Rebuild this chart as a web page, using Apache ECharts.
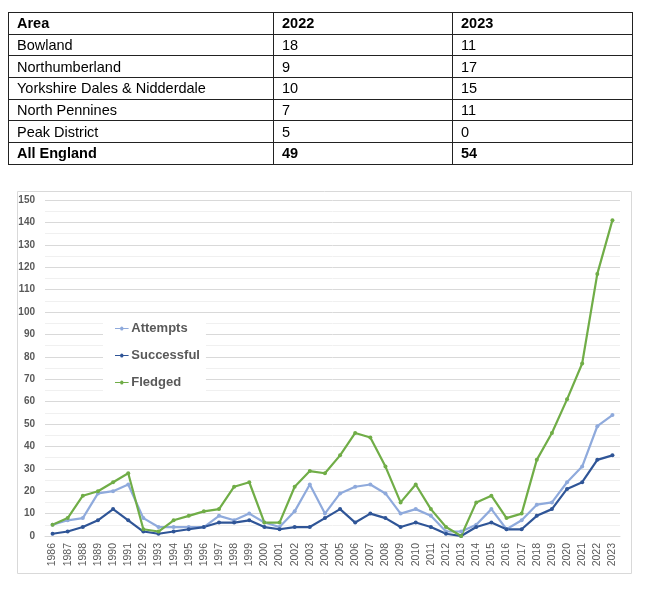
<!DOCTYPE html>
<html>
<head>
<meta charset="utf-8">
<script src="https://cdn.jsdelivr.net/npm/echarts@6/dist/echarts.min.js"></script>
<style>
html,body{margin:0;padding:0;background:#fff;}
#wrap{position:relative;width:645px;height:590px;overflow:hidden;}
#tbl{position:absolute;left:8px;top:12px;width:624px;border-collapse:collapse;font-family:"Liberation Sans",Arial,sans-serif;font-size:14.5px;color:#000;table-layout:fixed;}
#tbl td{border:1px solid #222;height:21.7px;padding:0 0 0 8px;line-height:20px;box-sizing:border-box;white-space:nowrap;}
#tbl tr.b td{font-weight:bold;}
#chart{position:absolute;left:0;top:0;width:645px;height:590px;}
</style>
</head>
<body>
<div id="wrap">
<div id="chart"></div>
<table id="tbl">
<colgroup><col style="width:265px"><col style="width:179px"><col style="width:180px"></colgroup>
<tbody id="tb"></tbody>
</table>
</div>
<script>
// Table data
const tableHeader = ["Area", "2022", "2023"];
const areas = ["Bowland", "Northumberland", "Yorkshire Dales & Nidderdale", "North Pennines", "Peak District"];
const v2022 = [18, 9, 10, 7, 5];
const v2023 = [11, 17, 15, 11, 0];
const totalRow = ["All England", 49, 54];

// Chart data
const years = ["1986","1987","1988","1989","1990","1991","1992","1993","1994","1995","1996","1997","1998","1999","2000","2001","2002","2003","2004","2005","2006","2007","2008","2009","2010","2011","2012","2013","2014","2015","2016","2017","2018","2019","2020","2021","2022","2023"];
const attempts =   [5,7,8,19,20,23,8,4,4,4,4,9,7,10,6,4,11,23,10,19,22,23,19,10,12,9,2,2,5,12,3,7,14,15,24,31,49,54];
const successful = [1,2,4,7,12,7,2,1,2,3,4,6,6,7,4,3,4,4,8,12,6,10,8,4,6,4,1,0,4,6,3,3,9,12,21,24,34,36];
const fledged =    [5,8,18,20,24,28,3,2,7,9,11,12,22,24,6,6,22,29,28,36,46,44,31,15,23,12,4,0,15,18,8,10,34,46,61,77,117,141];

// Build table
const tb = document.getElementById('tb');
function addRow(cells, bold){
  const tr = document.createElement('tr');
  if (bold) tr.className = 'b';
  cells.forEach(c => { const td = document.createElement('td'); td.textContent = c; tr.appendChild(td); });
  tb.appendChild(tr);
}
addRow(tableHeader, true);
areas.forEach((a, i) => addRow([a, v2022[i], v2023[i]], false));
addRow(totalRow, true);

const chart = echarts.init(document.getElementById('chart'), null, {renderer:'canvas'});
const font = '"Liberation Sans", Arial, sans-serif';
function mk(name, data, color){
  return {
    name: name, type: 'line', data: data,
    symbol: 'circle', symbolSize: 4,
    lineStyle: {color: color, width: 2.2},
    itemStyle: {color: color},
    z: 3
  };
}
chart.setOption({
  animation: false,
  graphic: [{
    type: 'rect', left: 15, top: 189,
    shape: {width: 614, height: 382},
    style: {fill: 'none', stroke: '#d9d9d9', lineWidth: 1},
    silent: true
  }],
  grid: {left: 45, right: 25, top: 200, bottom: 54, containLabel: false},
  legend: {
    orient: 'vertical', left: 103, top: 318,
    padding: [4, 6, 4, 12],
    backgroundColor: '#fff',
    itemWidth: 17, itemHeight: 4, itemGap: 14,
    icon: 'path://M0,1.5 L6.5,1.5 A2,2 0 0,1 10.5,1.5 L17,1.5 L17,2.5 L10.5,2.5 A2,2 0 0,1 6.5,2.5 L0,2.5 Z',
    textStyle: {fontFamily: font, fontSize: 13, fontWeight: 'bold', color: '#595959', padding: [0,0,0,-4]},
    data: ['Attempts', 'Successful', 'Fledged']
  },
  xAxis: {
    type: 'category', data: years, boundaryGap: true,
    axisLine: {show: true, lineStyle: {color: '#d9d9d9'}},
    axisTick: {show: false},
    axisLabel: {rotate: 90, interval: 0, fontFamily: font, fontSize: 10.5, color: '#595959', margin: 7}
  },
  yAxis: {
    type: 'value', min: 0, max: 150, interval: 10,
    axisLine: {show: false}, axisTick: {show: false},
    axisLabel: {fontFamily: font, fontSize: 10, fontWeight: 'bold', color: '#595959', margin: 10},
    splitLine: {lineStyle: {color: '#d9d9d9', width: 1}},
    minorTick: {show: false, splitNumber: 2},
    minorSplitLine: {show: true, lineStyle: {color: '#f0f0f0', width: 1}}
  },
  series: [
    mk('Attempts', attempts, '#8faadc'),
    mk('Successful', successful, '#2f5597'),
    mk('Fledged', fledged, '#70ad47')
  ]
});
</script>
</body>
</html>
